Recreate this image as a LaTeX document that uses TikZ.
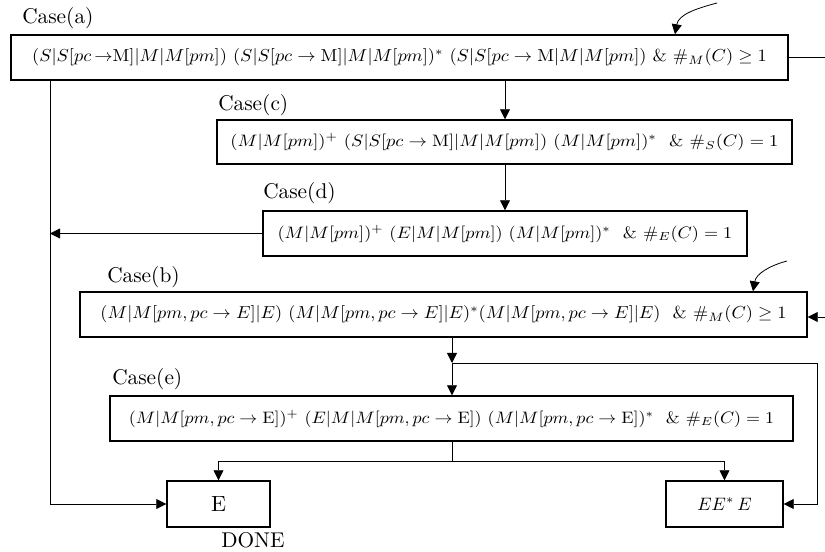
\documentclass[tikz,border=0pt]{standalone}
\usepackage{graphicx}
\usetikzlibrary{arrows.meta}
\begin{document}
\begin{tikzpicture}[x=0.75pt,y=-0.75pt,
  box/.style={draw,line width=1.1pt,rectangle,inner sep=0pt},
  lbl/.style={anchor=west,inner sep=0pt},
  arr/.style={line width=0.6pt,-{Triangle[width=7.5pt,length=7.5pt]}},
  ln/.style={line width=0.6pt}]
\useasboundingbox (0,0) rectangle (825,552);
% boxes
\node[box,minimum width=582.75pt,minimum height=33.75pt] (a) at (399.5,57.5)
  {\resizebox*{551pt}{13pt}{$(S|S[pc\,{\rightarrow}\mathrm{M}]|M|M[pm])\ (S|S[pc \rightarrow \mathrm{M}]|M|M[pm])^{*}\ (S|S[pc \rightarrow \mathrm{M}|M|M[pm])\ \&\ \#_{M}(C) \geq 1$}};
\node[box,minimum width=431.25pt,minimum height=33pt] (c) at (504.5,142)
  {\resizebox*{411pt}{13pt}{$(M|M[pm])^{+}\ (S|S[pc \rightarrow \mathrm{M}]|M|M[pm])\ (M|M[pm])^{*}\ \ \&\ \#_{S}(C) = 1$}};
\node[box,minimum width=363pt,minimum height=33.75pt] (d) at (505,233.5)
  {\resizebox*{341pt}{13pt}{$(M|M[pm])^{+}\ (E|M|M[pm])\ (M|M[pm])^{*}\ \ \&\ \#_{E}(C) = 1$}};
\node[box,minimum width=545.25pt,minimum height=33.75pt] (b) at (443.5,314.5)
  {\resizebox*{514.5pt}{13pt}{$(M|M[pm,pc \rightarrow E]|E)\ (M|M[pm,pc \rightarrow E]|E)^{*}(M|M[pm,pc \rightarrow E]|E)\ \ \&\ \#_{M}(C) \geq 1$}};
\node[box,minimum width=512.25pt,minimum height=33.75pt] (e) at (451.5,418.5)
  {\resizebox*{484pt}{13pt}{$(M|M[pm,pc \rightarrow \mathrm{E}])^{+}\ (E|M|M[pm,pc \rightarrow \mathrm{E}])\ (M|M[pm,pc \rightarrow \mathrm{E}])^{*}\ \ \&\ \#_{E}(C) = 1$}};
\node[box,minimum width=77.25pt,minimum height=34.5pt] (E) at (218.5,504) {\scalebox{1.65}{E}};
\node[box,minimum width=87.75pt,minimum height=34.5pt] (EEE) at (724.5,504) {\scalebox{1.35}{$EE^{*}\,E$}};
% labels
\node[lbl] (la) at (22,18) {\scalebox{1.6}{Case(a)}};
\node[lbl] (lc) at (218,105) {\scalebox{1.6}{Case(c)}};
\node[lbl] (ld) at (263,193) {\scalebox{1.6}{Case(d)}};
\node[lbl] (lb) at (107,277) {\scalebox{1.6}{Case(b)}};
\node[lbl] (le) at (112,379) {\scalebox{1.6}{Case(e)}};
\node[inner sep=0pt] (done) at (253,540) {\scalebox{1.6}{DONE}};
% helper coordinates
\coordinate (xc) at (505,0);
\coordinate (xl) at (50,0);
\coordinate (j) at (452,363);
\coordinate (r) at (817,363);
\coordinate (s) at (452,461);
\coordinate (ca) at (717,3);
\coordinate (cat) at (675,0);
\coordinate (cb) at (787,261);
\coordinate (cbt) at (753,0);
\coordinate (outa) at (825,57.5);
\coordinate (inb) at (825,317);
% connectors
\draw[arr] (a.south -| xc) -- (c.north -| xc);
\draw[arr] (c.south -| xc) -- (d.north -| xc);
\draw[arr] (a.south -| xl) |- (E.west);
\draw[arr] (d.west) -- (d.west -| xl);
\draw[ln] (a.east) -- (outa);
\draw[arr] (ca) to[out=195,in=80] (a.north -| cat);
\draw[arr] (cb) to[out=195,in=80] (b.north -| cbt);
\draw[arr] (inb) -- (inb -| b.east);
\draw[arr] (b.south -| j) -- (j);
\draw[arr] (j) -- (e.north -| j);
\draw[arr] (j) -- (r) |- (EEE.east);
\draw[ln] (e.south -| s) -- (s);
\draw[arr] (s) -| (E.north);
\draw[arr] (s) -| (EEE.north);
\end{tikzpicture}
\end{document}
